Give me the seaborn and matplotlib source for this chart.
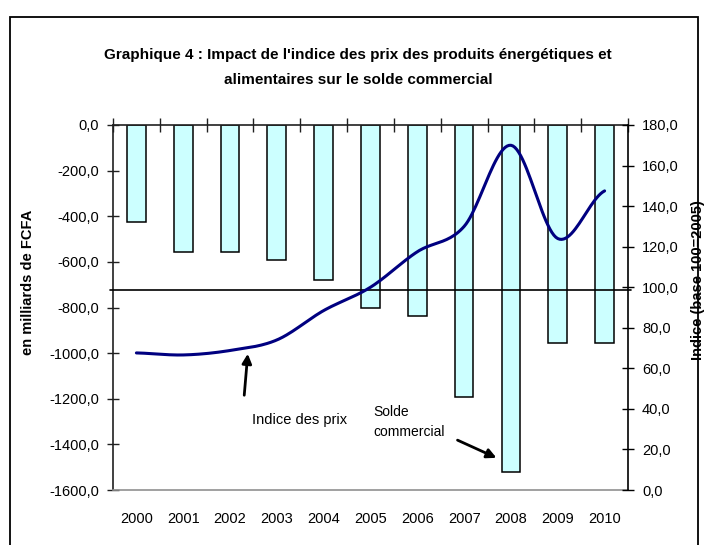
import numpy as np
import matplotlib
matplotlib.use("Agg")
import matplotlib.pyplot as plt
from matplotlib.ticker import FuncFormatter, FixedLocator
from matplotlib.patches import Rectangle
import seaborn as sns

# data
years = ["2000", "2001", "2002", "2003", "2004", "2005", "2006", "2007", "2008", "2009", "2010"]
solde = [-425, -557, -557, -592, -679, -802, -837, -1192, -1521, -956, -956]
indice = [67.6, 66.6, 68.8, 74.0, 88.5, 100.0, 117.5, 130.0, 170.0, 124.0, 147.5]
ref_line = 98.5

title = "Graphique 4 : Impact de l'indice des prix des produits énergétiques et\nalimentaires sur le solde commercial"


def smooth(ys, n=24):
    # catmull-rom, like the excel "smoothed line" option
    p = np.concatenate([[ys[0]], ys, [ys[-1]]])
    xs_out, ys_out = [], []
    for i in range(len(ys) - 1):
        p0, p1, p2, p3 = p[i], p[i + 1], p[i + 2], p[i + 3]
        t = np.linspace(0, 1, n, endpoint=False)
        y = 0.5 * (2 * p1 + (-p0 + p2) * t + (2 * p0 - 5 * p1 + 4 * p2 - p3) * t ** 2
                   + (-p0 + 3 * p1 - 3 * p2 + p3) * t ** 3)
        xs_out.extend(i + t)
        ys_out.extend(y)
    xs_out.append(len(ys) - 1)
    ys_out.append(ys[-1])
    return np.array(xs_out), np.array(ys_out)


sns.set_theme(style="white")
plt.rcParams['font.family'] = ['Liberation Sans', 'DejaVu Sans']
plt.rcParams['text.color'] = 'black'
plt.rcParams['axes.labelcolor'] = 'black'

fig = plt.figure(figsize=(7.07, 5.45), dpi=100)
ax = fig.add_axes([113 / 707, 1 - 490 / 545, 515 / 707, 365 / 545])

sns.barplot(x=years, y=solde, ax=ax, color="#CCFFFF", saturation=1, width=0.4,
            edgecolor="black", linewidth=1.1)
ax.set_xlim(-0.5, 10.5)
ax.set_ylim(-1600, 0)
ax.set_yticks(np.arange(-1600, 1, 200))
fmt = FuncFormatter(lambda v, pos: f"{v:.1f}".replace(".", ","))
ax.yaxis.set_major_formatter(fmt)
ax.set_xlabel("")
ax.set_ylabel("")

for s in ["top", "left"]:
    ax.spines[s].set_color("#202020")
    ax.spines[s].set_linewidth(1.2)
ax.spines["bottom"].set_color("#909090")
ax.spines["bottom"].set_linewidth(1.2)
ax.spines["right"].set_visible(False)

ax.tick_params(axis="y", which="major", left=True, direction="inout", length=8,
               width=1, color="#202020", labelsize=10.5, pad=6, labelcolor="black")
ax.tick_params(axis="x", which="major", bottom=False, top=False, labelsize=10.5,
               pad=10, labelcolor="black")
ax.xaxis.set_minor_locator(FixedLocator(np.arange(-0.5, 11, 1)))
ax.tick_params(axis="x", which="minor", top=True, bottom=False, direction="inout",
               length=10, width=1, color="#202020")

ax2 = ax.twinx()
ax2.set_ylim(0, 180)
ax2.set_yticks(np.arange(0, 181, 20))
ax2.yaxis.set_major_formatter(fmt)
for s in ["top", "left", "bottom"]:
    ax2.spines[s].set_visible(False)
ax2.spines["right"].set_color("black")
ax2.spines["right"].set_linewidth(1.2)
ax2.tick_params(axis="y", right=True, direction="inout", length=8, width=1,
                color="black", labelsize=10.5, pad=6, labelcolor="black")

ax2.axhline(ref_line, color="black", lw=1.2, xmin=-0.006, xmax=1.006, clip_on=False)
xs, ys = smooth(np.array(indice))
sns.lineplot(x=xs, y=ys, ax=ax2, sort=False, color="#000080", linewidth=2.2)
ax2.set_xlim(-0.5, 10.5)

# labels
fig.text(28 / 707, 1 - 282 / 545, "en milliards de FCFA", rotation=90, ha="center",
         va="center", fontsize=10.5, fontweight="bold")
fig.text(698 / 707, 1 - 280 / 545, "Indice (base 100=2005)", rotation=90, ha="center",
         va="center", fontsize=10.5, fontweight="bold")
fig.text(358 / 707, 1 - 67 / 545, title, ha="center", va="center", fontsize=11,
         fontweight="bold", linespacing=2.0)

# annotations
fig.text(300 / 707, 1 - 420 / 545, "Indice des prix", ha="center", va="center", fontsize=10.5)
fig.text(373 / 707, 1 - 422 / 545, "Solde\ncommercial", ha="left", va="center",
         fontsize=10, linespacing=1.6)
fig.add_artist(plt.Annotation("", xy=(248 / 707, 1 - 351 / 545), xytext=(244 / 707, 1 - 398 / 545),
                              xycoords="figure fraction", textcoords="figure fraction",
                              arrowprops=dict(arrowstyle="-|>", color="black", lw=2,
                                              mutation_scale=14)))
fig.add_artist(plt.Annotation("", xy=(499 / 707, 1 - 459 / 545), xytext=(455 / 707, 1 - 439 / 545),
                              xycoords="figure fraction", textcoords="figure fraction",
                              arrowprops=dict(arrowstyle="-|>", color="black", lw=2,
                                              mutation_scale=14)))

# outer frame of the excel chart
fig.add_artist(Rectangle((9.5 / 707, -0.1), 688 / 707, 1.1 - 17 / 545, transform=fig.transFigure,
                         fill=False, edgecolor="black", lw=1.3))

fig.savefig("out.png", dpi=100)
